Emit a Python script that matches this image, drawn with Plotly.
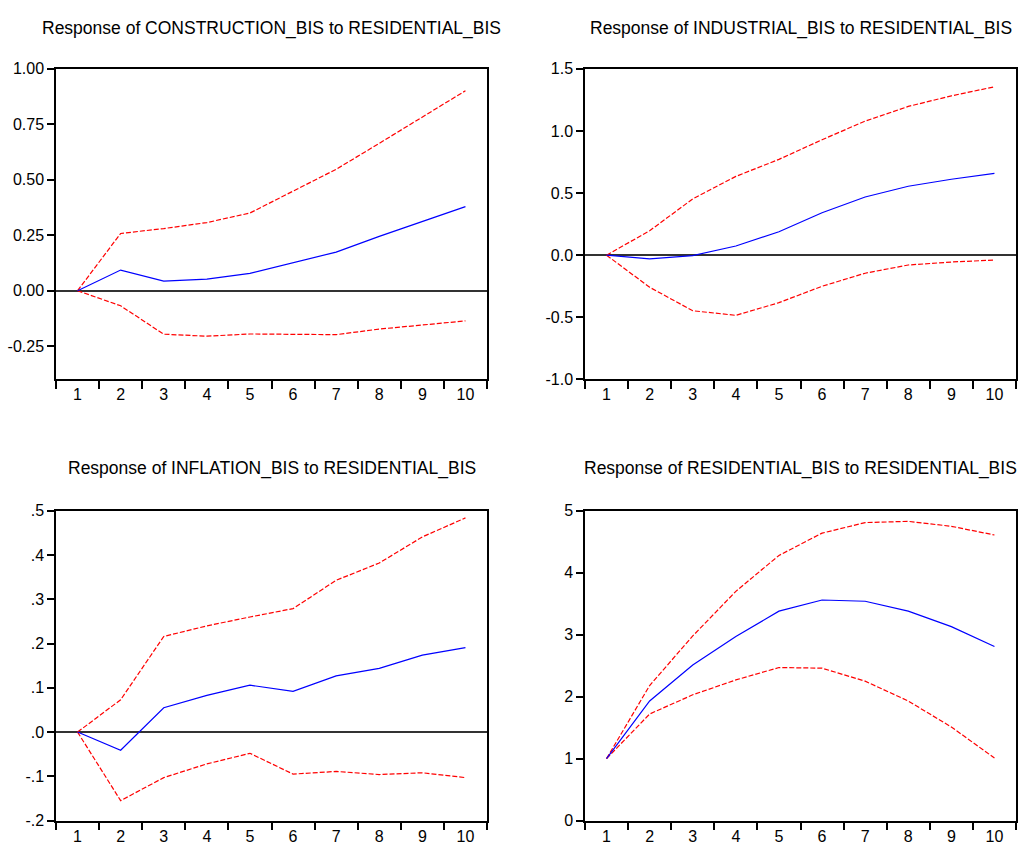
import plotly.graph_objects as go

periods = ["1", "2", "3", "4", "5", "6", "7", "8", "9", "10"]

titles = [
    "Response of CONSTRUCTION_BIS to RESIDENTIAL_BIS",
    "Response of INDUSTRIAL_BIS to RESIDENTIAL_BIS",
    "Response of INFLATION_BIS to RESIDENTIAL_BIS",
    "Response of RESIDENTIAL_BIS to RESIDENTIAL_BIS",
]

construction_resp = [0.0, 0.093, 0.043, 0.052, 0.078, 0.127, 0.174, 0.245, 0.311, 0.379]
construction_up = [0.0, 0.258, 0.280, 0.307, 0.350, 0.447, 0.547, 0.664, 0.782, 0.901]
construction_lo = [0.0, -0.068, -0.196, -0.205, -0.195, -0.198, -0.198, -0.173, -0.155, -0.136]

industrial_resp = [0.0, -0.029, -0.003, 0.074, 0.189, 0.342, 0.468, 0.555, 0.611, 0.658]
industrial_up = [0.0, 0.197, 0.453, 0.634, 0.771, 0.929, 1.079, 1.197, 1.282, 1.355]
industrial_lo = [0.0, -0.258, -0.447, -0.484, -0.382, -0.250, -0.145, -0.079, -0.055, -0.039]

inflation_resp = [0.0, -0.041, 0.055, 0.083, 0.106, 0.092, 0.127, 0.144, 0.174, 0.191]
inflation_up = [0.0, 0.073, 0.216, 0.240, 0.260, 0.279, 0.343, 0.382, 0.441, 0.484]
inflation_lo = [0.0, -0.155, -0.103, -0.072, -0.048, -0.095, -0.089, -0.096, -0.092, -0.103]

residential_resp = [1.0, 1.93, 2.51, 2.97, 3.38, 3.56, 3.54, 3.38, 3.13, 2.81]
residential_up = [1.0, 2.18, 2.98, 3.70, 4.28, 4.64, 4.81, 4.83, 4.75, 4.61]
residential_lo = [1.0, 1.72, 2.03, 2.27, 2.47, 2.46, 2.25, 1.93, 1.51, 1.01]

y_ranges = [[-0.40, 1.00], [-1.0, 1.5], [-0.2, 0.5], [0, 5]]
y_tickvals = [
    [-0.25, 0.0, 0.25, 0.5, 0.75, 1.0],
    [-1.0, -0.5, 0.0, 0.5, 1.0, 1.5],
    [-0.2, -0.1, 0.0, 0.1, 0.2, 0.3, 0.4, 0.5],
    [0, 1, 2, 3, 4, 5],
]
y_ticktext = [
    ["-0.25", "0.00", "0.25", "0.50", "0.75", "1.00"],
    ["-1.0", "-0.5", "0.0", "0.5", "1.0", "1.5"],
    ["-.2", "-.1", ".0", ".1", ".2", ".3", ".4", ".5"],
    ["0", "1", "2", "3", "4", "5"],
]

panels = [
    (construction_resp, construction_up, construction_lo),
    (industrial_resp, industrial_up, industrial_lo),
    (inflation_resp, inflation_up, inflation_lo),
    (residential_resp, residential_up, residential_lo),
]

W, H = 1019, 857
x_doms = [[56 / W, 487 / W], [585 / W, 1016 / W]]
y_doms = [[1 - 379 / H, 1 - 62 / H], [1 - 829 / H, 1 - 513 / H]]

FONT = "Liberation Sans, Arial, sans-serif"

fig = go.Figure()
layout = dict(
    width=W, height=H,
    margin=dict(l=0, r=0, t=0, b=0),
    paper_bgcolor="white", plot_bgcolor="white",
    showlegend=False,
    font=dict(family=FONT, size=16, color="black"),
    annotations=[],
)

for i, (resp, up, lo) in enumerate(panels):
    row, col = divmod(i, 2)
    xa = "x" if i == 0 else f"x{i+1}"
    ya = "y" if i == 0 else f"y{i+1}"
    for series, color, dash in [(up, "#FF0000", "5px,2px"), (lo, "#FF0000", "5px,2px"), (resp, "#0000FF", "solid")]:
        fig.add_trace(go.Scatter(
            x=periods, y=series, mode="lines", xaxis=xa, yaxis=ya,
            line=dict(color=color, width=1.2, dash=dash), hoverinfo="skip",
        ))
    xkey = "xaxis" if i == 0 else f"xaxis{i+1}"
    ykey = "yaxis" if i == 0 else f"yaxis{i+1}"
    layout[xkey] = dict(
        domain=x_doms[col], anchor=ya, type="category",
        categoryorder="array", categoryarray=periods,
        range=[-0.5, 9.5], tickson="boundaries",
        ticks="outside", ticklen=8, tickwidth=1.5, tickcolor="black",
        showline=True, linecolor="black", linewidth=1.5, mirror=True,
        showgrid=False, zeroline=False, fixedrange=True,
        tickfont=dict(family=FONT, size=16, color="black"),
    )
    layout[ykey] = dict(
        domain=y_doms[row], anchor=xa, range=y_ranges[i],
        tickvals=y_tickvals[i], ticktext=y_ticktext[i],
        ticks="outside", ticklen=7, tickwidth=1.5, tickcolor="black",
        showline=True, linecolor="black", linewidth=1.5, mirror=True,
        showgrid=False, zeroline=True, zerolinecolor="#333333", zerolinewidth=1.5,
        fixedrange=True,
        tickfont=dict(family=FONT, size=16, color="black"),
    )
    ty = [1 - 21 / H, 1 - 470 / H][row]
    layout["annotations"].append(dict(
        text=titles[i], xref="paper", yref="paper",
        x=(x_doms[col][0] + x_doms[col][1]) / 2, y=ty,
        xanchor="center", yanchor="middle", showarrow=False,
        font=dict(family=FONT, size=17.5, color="black"),
    ))

fig.update_layout(**layout)
fig.write_html("out.html")
